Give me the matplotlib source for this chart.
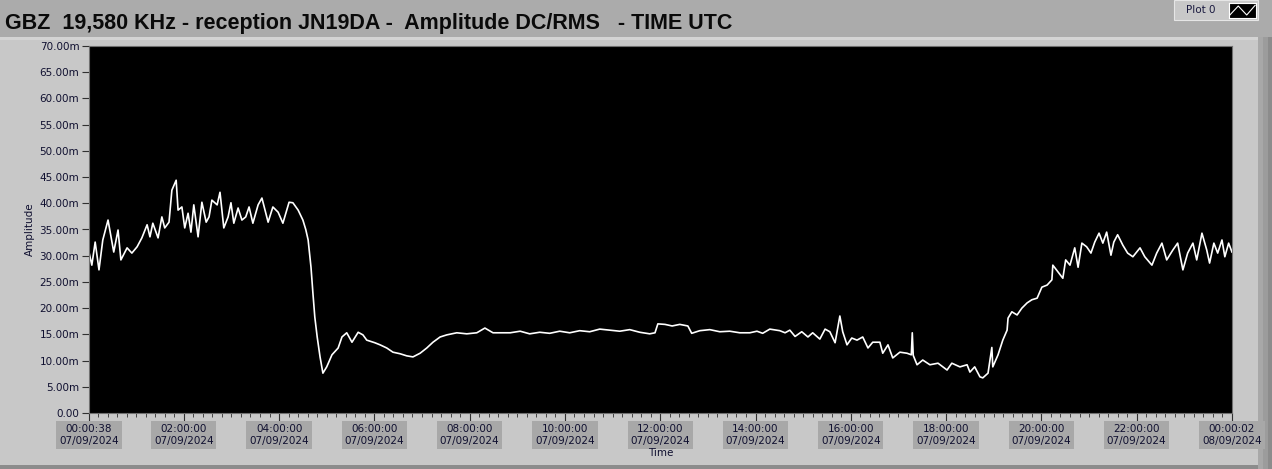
import matplotlib
matplotlib.use('Agg')
from matplotlib import pyplot as plt
from matplotlib.patches import Rectangle

# readings of the trace: time in hours since 00:00 07/09/2024, amplitude in mV
hours = [0.01, 0.07, 0.14, 0.22, 0.30, 0.41, 0.53, 0.62, 0.68, 0.81, 0.91, 1.02, 1.12, 1.23, 1.29,
         1.35, 1.46, 1.54, 1.60, 1.69, 1.75, 1.84, 1.88, 1.96, 2.02, 2.09, 2.15, 2.21, 2.30, 2.38,
         2.47, 2.53, 2.59, 2.70, 2.76, 2.84, 2.93, 2.99, 3.05, 3.14, 3.22, 3.30, 3.37, 3.45, 3.56,
         3.64, 3.77, 3.87, 3.98, 4.08, 4.21, 4.29, 4.40, 4.50, 4.56, 4.61, 4.67, 4.71, 4.75, 4.80,
         4.86, 4.92, 5.00, 5.11, 5.24, 5.32, 5.42, 5.53, 5.66, 5.76, 5.84, 6.01, 6.12, 6.26, 6.39,
         6.54, 6.68, 6.81, 6.96, 7.10, 7.23, 7.38, 7.52, 7.73, 7.94, 8.15, 8.32, 8.49, 8.64, 8.85,
         9.06, 9.26, 9.47, 9.68, 9.89, 10.10, 10.31, 10.52, 10.73, 10.94, 11.15, 11.36, 11.57, 11.78,
         11.89, 11.95, 12.10, 12.25, 12.41, 12.58, 12.66, 12.83, 13.04, 13.25, 13.46, 13.67, 13.88,
         14.03, 14.15, 14.30, 14.51, 14.62, 14.72, 14.83, 14.97, 15.10, 15.20, 15.35, 15.46, 15.56,
         15.67, 15.73, 15.77, 15.83, 15.92, 16.02, 16.13, 16.25, 16.36, 16.46, 16.61, 16.67, 16.78,
         16.88, 17.03, 17.18, 17.27, 17.29, 17.31, 17.39, 17.51, 17.66, 17.83, 18.02, 18.12, 18.29,
         18.44, 18.50, 18.60, 18.71, 18.77, 18.88, 18.96, 18.98, 19.09, 19.19, 19.28, 19.30, 19.38,
         19.49, 19.59, 19.70, 19.80, 19.91, 20.01, 20.12, 20.22, 20.24, 20.35, 20.45, 20.51, 20.60,
         20.70, 20.77, 20.85, 20.95, 21.04, 21.12, 21.21, 21.29, 21.37, 21.46, 21.52, 21.60, 21.71,
         21.81, 21.92, 22.07, 22.17, 22.32, 22.42, 22.53, 22.63, 22.76, 22.86, 22.97, 23.07, 23.18,
         23.26, 23.37, 23.47, 23.53, 23.62, 23.70, 23.79, 23.85, 23.93, 24.00]
amplitude = [30.7, 28.2, 32.6, 27.3, 33.0, 36.8, 30.7, 34.9, 29.2, 31.5, 30.5, 31.7, 33.4, 35.9, 33.6,
             36.2, 33.4, 37.4, 35.3, 36.4, 42.5, 44.4, 38.7, 39.3, 35.3, 38.1, 34.5, 39.7, 33.6, 40.2,
             36.4, 37.4, 40.6, 39.7, 42.1, 35.3, 37.4, 40.1, 36.2, 39.1, 36.8, 37.4, 39.3, 36.2, 39.7,
             41.0, 36.4, 39.3, 38.3, 36.2, 40.2, 40.1, 38.7, 36.8, 35.0, 33.0, 27.8, 22.9, 18.3, 14.5,
             10.7, 7.6, 8.8, 11.1, 12.4, 14.5, 15.3, 13.5, 15.4, 14.9, 13.9, 13.4, 13.0, 12.4, 11.6,
             11.3, 10.9, 10.7, 11.4, 12.4, 13.5, 14.5, 14.9, 15.3, 15.1, 15.3, 16.2, 15.3, 15.3, 15.3,
             15.6, 15.1, 15.4, 15.2, 15.6, 15.3, 15.7, 15.5, 16.0, 15.8, 15.6, 15.9, 15.4, 15.1,
             15.3, 17.0, 16.9, 16.6, 16.9, 16.6, 15.2, 15.7, 15.9, 15.5, 15.6, 15.3, 15.3,
             15.6, 15.2, 16.0, 15.7, 15.3, 15.8, 14.6, 15.5, 14.5, 15.3, 14.1, 16.0, 15.5,
             13.4, 16.4, 18.5, 15.5, 13.0, 14.3, 13.9, 14.5, 12.4, 13.5, 13.5, 11.4, 13.0,
             10.5, 11.6, 11.4, 11.1, 15.3, 11.0, 9.2, 10.1, 9.2, 9.5, 8.2, 9.5, 8.8,
             9.2, 7.8, 8.8, 6.9, 6.7, 7.6, 12.5, 8.8, 11.1, 13.9, 15.8, 18.1, 19.3,
             18.7, 20.0, 21.0, 21.6, 21.9, 24.0, 24.4, 25.4, 28.2, 26.9, 25.7, 29.2, 28.2,
             31.5, 27.8, 32.4, 31.7, 30.5, 32.6, 34.3, 32.4, 34.5, 30.1, 32.6, 34.0, 32.0,
             30.5, 29.8, 31.5, 29.8, 28.2, 30.5, 32.4, 29.2, 31.1, 32.4, 27.3, 30.5, 32.4,
             29.2, 34.3, 31.1, 28.6, 32.4, 30.5, 33.0, 29.8, 32.4, 30.7]

x_ticks = [0.0106, 2, 4, 6, 8, 10, 12, 14, 16, 18, 20, 22, 24.0006]
x_labels = ['00:00:38\n07/09/2024', '02:00:00\n07/09/2024', '04:00:00\n07/09/2024',
            '06:00:00\n07/09/2024', '08:00:00\n07/09/2024', '10:00:00\n07/09/2024',
            '12:00:00\n07/09/2024', '14:00:00\n07/09/2024', '16:00:00\n07/09/2024',
            '18:00:00\n07/09/2024', '20:00:00\n07/09/2024', '22:00:00\n07/09/2024',
            '00:00:02\n08/09/2024']
y_ticks = [0, 5, 10, 15, 20, 25, 30, 35, 40, 45, 50, 55, 60, 65, 70]
y_labels = ['0.00'] + ['%.2fm' % v for v in y_ticks[1:]]

W, H = 1272, 469
fig = plt.figure(figsize=(W / 100, H / 100), dpi=100)
fig.patch.set_facecolor('#ababab')


def fig_rect(x, y, w, h, **kw):
    # rectangle in pixel coords measured from the top-left corner
    r = Rectangle((x / W, (H - y - h) / H), w / W, h / H, transform=fig.transFigure, **kw)
    fig.patches.append(r)
    return r


# panel behind the graph
fig_rect(0, 37, 1258, 428, facecolor='#c8c8c8', edgecolor='none', zorder=-10)
fig_rect(0, 37, 1258, 3, facecolor='#d4d4d4', edgecolor='none', zorder=-9)
fig_rect(1258, 37, 5, 432, facecolor='#a8a8a8', edgecolor='none', zorder=-10)
fig_rect(1263, 37, 5, 432, facecolor='#9c9c9c', edgecolor='none', zorder=-10)
fig_rect(1268, 37, 4, 432, facecolor='#8c8c8c', edgecolor='none', zorder=-10)
fig_rect(0, 465, 1258, 4, facecolor='#8c8c8c', edgecolor='none', zorder=-10)

# legend box "Plot 0"
fig_rect(1174, 0, 84, 20, facecolor='#c8c8c8', edgecolor='#e6e6e6', lw=0.8, zorder=-5)
fig.text(1201 / W, (H - 10) / H, 'Plot 0', fontsize=7.5, color='#1a1a40', ha='center', va='center')
lax = fig.add_axes([1229 / W, (H - 18) / H, 27 / W, 15 / H])
lax.set_facecolor('black')
lax.plot([0, 1, 2, 3], [0.2, 0.8, 0.2, 0.85], color='white', lw=0.8)
lax.set_xlim(-0.1, 3.1)
lax.set_ylim(0, 1)
lax.set_xticks([])
lax.set_yticks([])
for s in lax.spines.values():
    s.set_color('white')

fig.text(5 / W, (H - 23) / H, 'GBZ  19,580 KHz - reception JN19DA -  Amplitude DC/RMS   - TIME UTC',
         fontsize=15.5, fontweight='bold', color='#0a0a0a', family='Liberation Sans', va='center')

ax = fig.add_axes([89 / W, (H - 413) / H, (1232 - 89) / W, (413 - 46) / H])
ax.set_facecolor('black')
ax.plot(hours, amplitude, color='white', lw=1.2)
ax.set_xlim(0.0106, 24.0006)
ax.set_ylim(0, 70)

ax.set_yticks(y_ticks)
ax.set_yticklabels(y_labels, fontsize=7.5, color='#101030')
ax.set_xticks(x_ticks)
ax.set_xticklabels(x_labels, fontsize=7.5, color='#101030', linespacing=1.2)
ax.set_xticks([i * 0.2 for i in range(1, 120) if i % 10 != 0], minor=True)
ax.tick_params(axis='x', which='major', length=6, color='#303030', pad=2)
ax.tick_params(axis='x', which='minor', length=3, color='#303030')
ax.tick_params(axis='y', length=5, color='#303030', pad=2)
for lbl in ax.get_xticklabels():
    lbl.set_bbox(dict(facecolor='#a8a8a8', edgecolor='none', pad=2))
for s in ax.spines.values():
    s.set_color('#707070')

ax.set_xlabel('Time', fontsize=7.5, color='#101030', labelpad=2)
ax.set_ylabel('Amplitude', fontsize=7.5, color='#101030', labelpad=3)

fig.savefig('out.png', dpi=100, facecolor=fig.get_facecolor())
